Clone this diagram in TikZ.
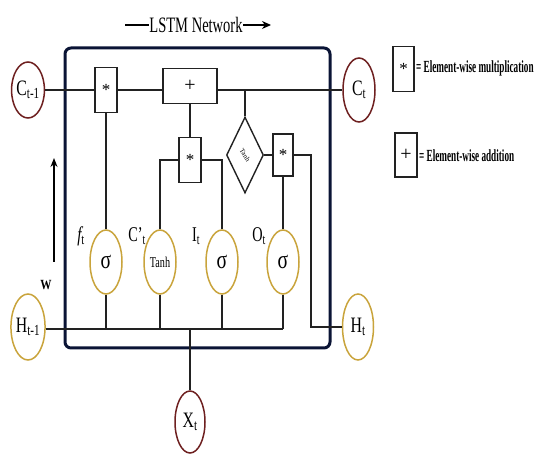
\documentclass[tikz,border=0pt]{standalone}
\usepackage{fontspec}
\setmainfont{Liberation Serif}
\usepackage{graphicx}
\usetikzlibrary{shapes.geometric,arrows.meta}
\newcommand{\sqz}[2]{\scalebox{#1}[1]{#2}}
\definecolor{maroonc}{HTML}{6E2020}
\definecolor{goldc}{HTML}{C9A43C}
\definecolor{navyc}{HTML}{0A1435}
\definecolor{linec}{HTML}{222222}
\begin{document}
\begin{tikzpicture}[x=1pt,y=-1pt,
  conn/.style={draw=linec, line width=1.4pt},
  thickconn/.style={draw=linec, line width=2.4pt},
  cellred/.style={ellipse, draw=maroonc, line width=1.5pt, fill=white, inner sep=0pt,
    minimum width=31pt, minimum height=56pt, font=\fontsize{22}{24}\selectfont},
  cellgold/.style={ellipse, draw=goldc, line width=1.5pt, fill=white, inner sep=0pt,
    minimum width=31pt, minimum height=66pt, font=\fontsize{22}{24}\selectfont},
  gate/.style={ellipse, draw=goldc, line width=1.5pt, fill=white, inner sep=0pt,
    minimum width=32pt, minimum height=64pt, font=\fontsize{26}{28}\selectfont},
  opbox/.style={rectangle, draw=linec, line width=1.4pt, fill=white, inner sep=0pt,
    minimum width=22pt, minimum height=45pt, font=\fontsize{17}{19}\selectfont},
  lbl/.style={inner sep=0pt, font=\fontsize{21}{23}\selectfont},
  legtext/.style={inner sep=0pt, anchor=west, font=\bfseries\fontsize{17}{19}\selectfont}
]
\useasboundingbox (0,0) rectangle (536,454);

% outer network frame
\draw[draw=navyc, line width=3pt, rounded corners=6pt] (65,48) rectangle (330,348);

% title
\node[inner sep=0pt, font=\fontsize{22}{24}\selectfont] (title) at (196,25) {\sqz{0.66}{LSTM Network}};
\coordinate (tl) at (125,25);
\coordinate (tr) at (271,25);
\draw[line width=1.4pt] (tl) -- (title.west);
\draw[line width=1.4pt, -{Stealth[length=9pt,width=8pt]}] (title.east) -- (tr);

% state nodes
\node[cellred] (Cprev) at (28,90) {\sqz{0.72}{C\textsubscript{t-1}}};
\node[cellred, minimum height=64pt, minimum width=32pt] (Ct) at (359,90) {\sqz{0.72}{C\textsubscript{t}}};
\node[cellgold] (Hprev) at (28,327) {\sqz{0.72}{H\textsubscript{t-1}}};
\node[cellgold] (Ht) at (358,327) {\sqz{0.72}{H\textsubscript{t}}};
\node[cellred, minimum height=62pt, minimum width=30pt] (Xt) at (190,422) {\sqz{0.72}{X\textsubscript{t}}};

% operation boxes
\node[opbox] (m1) at (106,90) {*};
\node[opbox, minimum width=54pt, minimum height=35pt, font=\fontsize{20}{22}\selectfont] (add) at (190,86) {+};
\node[opbox] (m2) at (190,160) {*};
\node[diamond, draw=linec, line width=1.4pt, fill=white, inner sep=0pt, minimum width=37pt, minimum height=76pt] (tanhd) at (245,155) {};
\node[inner sep=0pt, rotate=-58, font=\fontsize{7}{8}\selectfont] (tanhtxt) at (tanhd.center) {Tanh};
\node[opbox, minimum width=20pt, minimum height=42pt] (m3) at (283,155) {*};

% gates
\node[gate] (sf) at (106,262) {\sqz{0.75}{σ}};
\node[gate, font=\fontsize{15}{17}\selectfont] (st) at (160,262) {\sqz{0.68}{Tanh}};
\node[gate] (si) at (222,262) {\sqz{0.75}{σ}};
\node[gate] (so) at (283,262) {\sqz{0.75}{σ}};

% gate labels
\node[lbl] (lf) at (81,236) {\sqz{0.72}{\itshape f\textsubscript{\upshape t}}};
\node[lbl] (lc) at (137,236) {\sqz{0.68}{C'\textsubscript{t}}};
\node[lbl] (li) at (196,236) {\sqz{0.68}{I\textsubscript{t}}};
\node[lbl] (lo) at (259,236) {\sqz{0.68}{O\textsubscript{t}}};

% W arrow
\coordinate (wa) at (54,262);
\coordinate (wb) at (54,158);
\draw[line width=1.2pt, -{Stealth[length=9pt,width=7pt]}] (wa) -- (wb);
\node[inner sep=0pt, font=\bfseries\fontsize{14}{15}\selectfont] (wl) at (46,285) {\sqz{0.8}{W}};

% cell state line
\draw[thickconn] (Cprev.east) -- (m1.west);
\draw[conn] (m1.east) -- (m1.east -| add.west);
\draw[conn] (add.east |- Ct.west) -- (Ct.west);
\coordinate (jt) at (245,90);
\draw[conn] (jt) -- (tanhd.north);
\draw[conn] (tanhd.east) -- (m3.west);
\coordinate (r1) at (311,155);
\coordinate (r2) at (311,327);
\draw[conn] (m3.east) -- (r1) -- (r2) -- (Ht.west);
\draw[conn] (m3.south) -- (so.north);
\draw[conn] (add.south) -- (m2.north);
\draw[conn] (m2.west) -| (st.north);
\draw[conn] (m2.east) -| (si.north);
\draw[conn] (m1.south) -- (sf.north);

% hidden state / input line
\coordinate (hl) at (283,329);
\draw[thickconn] (Hprev.east |- hl) -- (106,329);
\draw[conn] (106,329) -- (hl);
\draw[conn] (sf.south) -- (sf.south |- hl);
\draw[conn] (st.south) -- (st.south |- hl);
\draw[conn] (si.south) -- (si.south |- hl);
\draw[conn] (so.south) -- (hl);
\draw[conn] (Xt.north) -- (Xt.north |- hl);

% legend
\node[opbox, minimum width=21pt, minimum height=45pt] (lm) at (403.5,69) {*};
\node[legtext] (lmt) at (416,68) {\sqz{0.54}{= Element-wise multiplication}};
\node[opbox, minimum width=22pt, minimum height=44pt, font=\fontsize{20}{22}\selectfont] (la) at (406,155) {+};
\node[legtext] (lat) at (419,156) {\sqz{0.54}{= Element-wise addition}};
\end{tikzpicture}
\end{document}
